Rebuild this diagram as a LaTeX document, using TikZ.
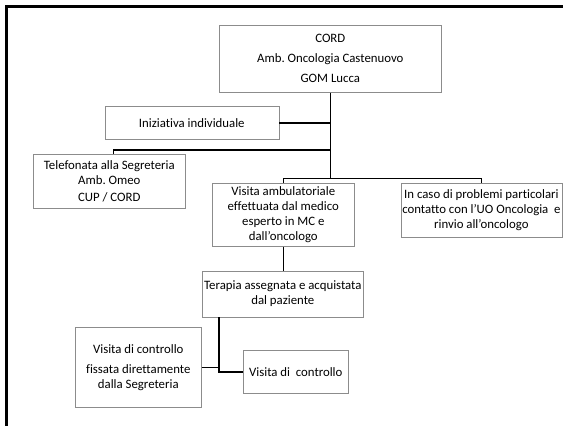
\documentclass[tikz,border=0pt]{standalone}
\usepackage{fontspec}
\setmainfont{Carlito}[Ligatures={TeX,NoCommon}]
\usetikzlibrary{positioning, calc, shadows}

\begin{document}
\begin{tikzpicture}[
        x=1pt, y=-1pt,
        % Define styles for the different blocks
        box/.style={rectangle, draw=black!45, line width=0.6pt, fill=white, align=center, inner sep=0pt, anchor=north west, font=\fontsize{12.8}{15}\selectfont, drop shadow={shadow xshift=1pt, shadow yshift=-1pt, opacity=0.25, fill=black!60}},
        line/.style={draw, line width=1.4pt, color=black}
    ]
    \useasboundingbox (0,0) rectangle (563,426);

    % Outer frame
    \draw [line width=3pt] (6,426) -- (6,6) -- (563,6);

    % --- Nodes ---
    % Top
    \node [box, minimum width=222pt, minimum height=67pt] (cord) at (219,25) {CORD\\[5pt] Amb.\ Oncologia Castenuovo\\[5pt] GOM Lucca};

    % Access
    \node [box, minimum width=174pt, minimum height=33pt] (ini) at (104.5,106) {Iniziativa individuale};
    \node [box, minimum width=152pt, minimum height=54pt] (tel) at (33,154) {Telefonata alla Segreteria\\ Amb.\ Omeo\\[2pt] CUP / CORD};

    % Visits
    \node [box, minimum width=142pt, minimum height=63pt] (vis) at (212,183) {Visita ambulatoriale\\ effettuata dal medico\\ esperto in MC e\\ dall’oncologo};
    \node [box, minimum width=161pt, minimum height=54pt, right=46pt of vis.north east, anchor=north west] (caso) {In caso di problemi particolari\\ contatto con l’UO Oncologia\ \ e\\ rinvio all’oncologo};

    % Therapy
    \node [box, minimum width=161pt, minimum height=46pt, below=24pt of vis.south west, anchor=north west, xshift=-10pt] (ter) {Terapia assegnata e acquistata\\ dal paziente};

    % Follow-up
    \node [box, minimum width=126pt, minimum height=80pt] (ctrl1) at (75,327) {Visita di controllo\\[5pt] fissata direttamente\\ dalla Segreteria};
    \node [box, minimum width=105pt, minimum height=43pt] (ctrl2) at (243,350) {Visita di\ \ controllo};

    % --- Edges ---
    \coordinate (split) at ([yshift=4.5pt]vis.north -| cord.south);
    \coordinate (tfoot) at ([xshift=17pt]ter.south west);

    \path [line] (cord.south) -- (split);
    \path [line] (ini.east) -- (ini.east -| cord.south);
    \path [line] ([xshift=4pt]tel.north) -- ++(0,-4) -| (cord.south);

    % Splitting to the visits
    \path [line] (vis.north) |- (split) -| (caso.north);

    \path [line] (vis.south) -- (vis.south |- ter.north);

    % Follow-up branches
    \path [line] (tfoot) |- (ctrl2.west);
    \path [line] (ctrl1.east) -- (ctrl1.east -| tfoot);

\end{tikzpicture}
\end{document}
